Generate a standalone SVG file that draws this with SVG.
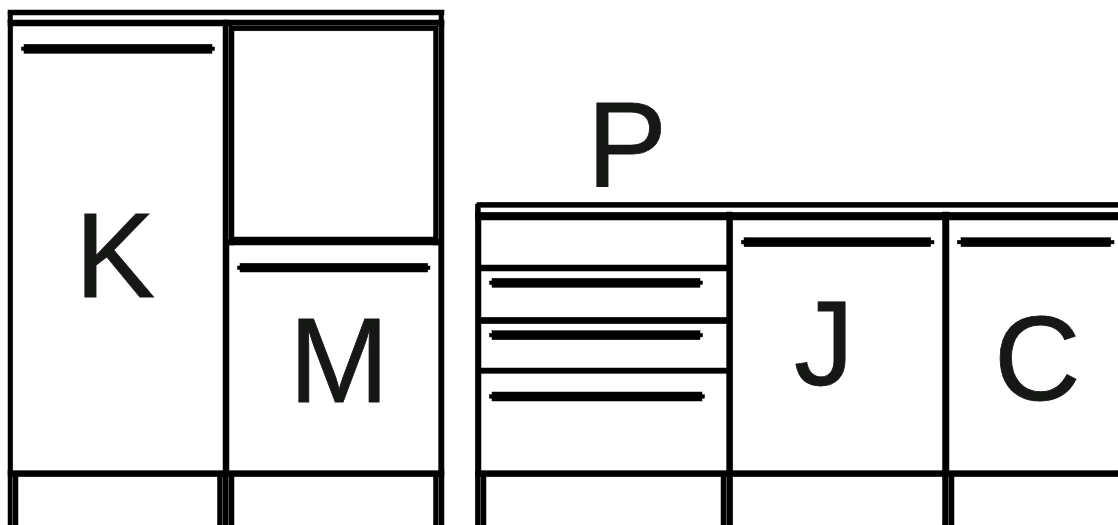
<svg xmlns="http://www.w3.org/2000/svg" width="1118" height="525" viewBox="0 0 1118 525">
<style>
.l{fill:#000;stroke:#000;stroke-width:.5}
.s{fill:#a8a8a8}
.t{font-family:"Liberation Sans",Arial,sans-serif;font-size:120px;fill:#161816;stroke:#161816;stroke-width:.8}
</style>
<rect width="1118" height="525" fill="#fff"/>
<g id="cabinet-left">
<rect class="l" x="8" y="10" width="436" height="5"/>
<rect class="l" x="8" y="12" width="4.500" height="10"/>
<rect class="l" x="439" y="12" width="4.500" height="10"/>
<rect class="l" x="8" y="20" width="436" height="6"/>
<rect class="l" x="8" y="20" width="4.700" height="505"/>
<rect class="l" x="223" y="20" width="6" height="505"/>
<rect class="l" x="438.700" y="20" width="5.300" height="505"/>
<rect class="l" x="8" y="470.700" width="436" height="6"/>
<rect class="l" x="13" y="476" width="5" height="49"/>
<rect class="l" x="217.500" y="476" width="5.500" height="49"/>
<rect class="l" x="229" y="476" width="5" height="49"/>
<rect class="l" x="433.500" y="476" width="5.200" height="49"/>
<rect class="s" x="12.500" y="477" width="0.500" height="48"/>
<rect class="s" x="222.400" y="477" width="0.500" height="48"/>
<rect class="s" x="228.400" y="477" width="0.500" height="48"/>
<rect class="s" x="438.400" y="477" width="0.500" height="48"/>
</g>
<g id="door-upper">
<rect class="l" x="229" y="25" width="209.700" height="5.800"/>
<rect class="l" x="229" y="237" width="209.700" height="8"/>
<rect class="l" x="229" y="25" width="5" height="220"/>
<rect class="l" x="433.500" y="25" width="5.200" height="220"/>
<rect class="s" x="228.400" y="26" width="0.500" height="213"/>
<rect class="s" x="438.400" y="26" width="0.500" height="213"/>
<rect class="s" x="232" y="25" width="205" height="0.400"/>
</g>
<g id="K">
<rect class="l" x="24" y="44.300" width="188" height="9"/><rect class="l" x="21.500" y="47" width="193" height="3.500"/>
<text class="t" x="75" y="296.700">K</text>
</g>
<g id="M">
<rect class="l" x="240" y="263.300" width="187.700" height="8.700"/><rect class="l" x="237.500" y="266" width="192.500" height="3.500"/>
<text class="t" x="289" y="401.700">M</text>
</g>
<g id="cabinet-right">
<rect class="l" x="477" y="202.300" width="641" height="5"/>
<rect class="l" x="475.300" y="204" width="5" height="10"/>
<rect class="l" x="475.300" y="212.300" width="642.700" height="7.700"/>
<rect class="l" x="475.300" y="212" width="5.700" height="313"/>
<rect class="l" x="726.700" y="212" width="6" height="313"/>
<rect class="l" x="942.500" y="212" width="6.500" height="313"/>
<rect class="l" x="475.300" y="470.700" width="642.700" height="6"/>
<rect class="l" x="481" y="476" width="5" height="49"/>
<rect class="l" x="721" y="476" width="5.700" height="49"/>
<rect class="l" x="949" y="476" width="5" height="49"/>
<rect class="s" x="480.500" y="477" width="0.500" height="48"/>
<rect class="s" x="726.300" y="477" width="0.500" height="48"/>
<rect class="s" x="948.400" y="477" width="0.500" height="48"/>
</g>
<g id="P">
<rect class="l" x="481" y="265" width="246" height="6"/>
<rect class="l" x="481" y="317.300" width="246" height="6.400"/>
<rect class="l" x="481" y="368" width="246" height="5.300"/>
<rect class="l" x="492" y="278.300" width="208" height="9"/><rect class="l" x="489.500" y="281" width="213" height="3.500"/>
<rect class="l" x="492" y="330.700" width="208" height="9"/><rect class="l" x="489.500" y="333.400" width="213" height="3.500"/>
<rect class="l" x="492" y="392" width="210" height="9"/><rect class="l" x="489.500" y="394.700" width="215" height="3.500"/>
<text class="t" x="587" y="185.700">P</text>
</g>
<g id="J">
<rect class="l" x="744" y="237.700" width="186.700" height="9"/><rect class="l" x="741.500" y="240.400" width="192.500" height="3.500"/>
<text class="t" x="794" y="385">J</text>
</g>
<g id="C">
<rect class="l" x="961" y="237.700" width="149.700" height="9"/><rect class="l" x="957.500" y="240.400" width="156.500" height="3.500"/>
<text class="t" x="994" y="400">C</text>
</g>
<g id="connectors"/>
</svg>
